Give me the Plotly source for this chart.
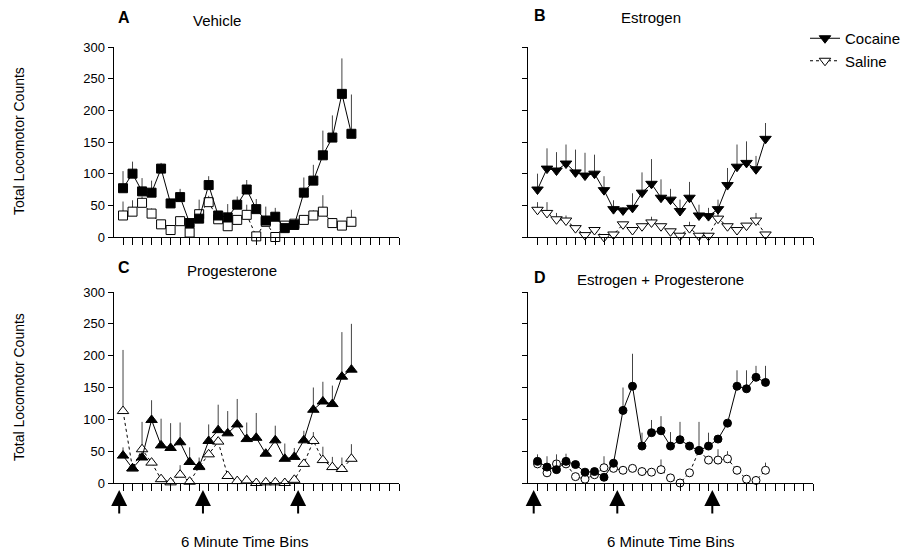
import plotly.graph_objects as go

# ---------------- data ----------------
bins = list(range(1, 26))
x_ticks = list(range(1, 31))
y_ticks = [0, 50, 100, 150, 200, 250, 300]

A_coc = [77, 100, 72, 70, 108, 53, 63, 22, 29, 82, 34, 31, 51, 75, 44, 26, 32, 14, 19, 70, 89, 129, 157, 226, 163]
A_coc_err = [27, 19, 21, 19, 9, 0, 13, 0, 0, 14, 0, 21, 13, 15, 16, 0, 14, 0, 0, 24, 25, 39, 35, 56, 62]
A_sal = [34, 40, 54, 37, 20, 11, 25, 7, 36, 55, 28, 17, 27, 35, 1, 24, 0, 18, 21, 27, 34, 40, 22, 18, 24]
A_sal_err = [22, 18, 10, 8, 5, 5, 5, 5, 23, 10, 5, 5, 5, 16, 5, 24, 5, 5, 5, 5, 8, 26, 8, 5, 19]

B_coc = [75, 108, 105, 116, 102, 97, 100, 74, 44, 42, 46, 70, 84, 62, 59, 41, 62, 34, 33, 44, 82, 111, 117, 107, 155]
B_coc_err = [25, 32, 29, 30, 36, 36, 30, 22, 14, 5, 23, 32, 39, 29, 17, 18, 25, 17, 13, 15, 27, 35, 34, 21, 25]
B_sal = [43, 38, 28, 26, 14, 3, 11, 0, 4, 20, 11, 17, 23, 17, 9, 2, 14, 2, 2, 29, 17, 11, 18, 26, 4]
B_sal_err = [12, 17, 10, 8, 3, 3, 3, 3, 3, 3, 3, 3, 9, 3, 3, 3, 10, 3, 3, 14, 3, 3, 3, 12, 3]

C_coc = [43, 23, 40, 99, 59, 55, 64, 33, 26, 66, 83, 78, 92, 69, 71, 46, 67, 38, 41, 67, 115, 128, 124, 167, 178]
C_coc_err = [13, 0, 0, 31, 42, 39, 31, 23, 14, 26, 40, 35, 40, 26, 39, 0, 23, 24, 14, 15, 35, 31, 29, 70, 72]
C_sal = [113, 23, 53, 32, 6, 1, 13, 2, 25, 45, 65, 11, 3, 4, 0, 1, 1, 0, 5, 30, 66, 36, 25, 22, 38]
C_sal_err = [96, 0, 43, 0, 0, 0, 15, 0, 0, 0, 0, 0, 0, 0, 0, 0, 0, 0, 0, 0, 14, 21, 16, 18, 23]

D_coc = [34, 25, 21, 34, 29, 17, 18, 9, 31, 114, 152, 58, 79, 82, 58, 68, 58, 51, 58, 69, 94, 152, 148, 166, 158]
D_coc_err = [11, 17, 24, 12, 0, 0, 0, 0, 0, 36, 51, 21, 20, 23, 22, 28, 0, 45, 21, 0, 0, 25, 29, 18, 26]
D_sal = [30, 16, 30, 30, 10, 6, 13, 24, 23, 20, 23, 18, 17, 21, 8, 0, 16, 51, 36, 36, 38, 20, 6, 4, 20]
D_sal_err = [0, 0, 0, 0, 0, 0, 0, 18, 0, 0, 0, 0, 0, 16, 0, 0, 0, 0, 0, 17, 12, 0, 0, 0, 12]

injection_bins = [0.6, 9.4, 19.4]

panel_letters = ["A", "B", "C", "D"]
panel_titles = ["Vehicle", "Estrogen", "Progesterone", "Estrogen + Progesterone"]
y_title = "Total Locomotor Counts"
x_title = "6 Minute Time Bins"

# ---------------- layout geometry ----------------
W, H = 902, 552
FONT = "Liberation Sans, Arial, sans-serif"

def px_x(p):
    return p / W

def px_y(p):
    return 1 - p / H

xdom_left = [px_x(113.5), px_x(399)]
xdom_right = [px_x(528), px_x(813)]
ydom_top = [px_y(237), px_y(47)]
ydom_bot = [px_y(483), px_y(292)]

fig = go.Figure()

panels = [
    ("x", "y", A_coc, A_coc_err, A_sal, A_sal_err, "square", False),
    ("x2", "y2", B_coc, B_coc_err, B_sal, B_sal_err, "triangle-down", True),
    ("x3", "y3", C_coc, C_coc_err, C_sal, C_sal_err, "triangle-up", False),
    ("x4", "y4", D_coc, D_coc_err, D_sal, D_sal_err, "circle", False),
]
sizes = {"square": 9, "triangle-down": 10, "triangle-up": 10, "circle": 8}

for xa, ya, coc, coc_e, sal, sal_e, sym, leg in panels:
    sz = sizes[sym]
    fig.add_trace(go.Scatter(
        x=bins, y=sal, xaxis=xa, yaxis=ya, mode="lines+markers",
        name="Saline", showlegend=leg, legendrank=2,
        line=dict(color="black", width=1, dash="dot"),
        marker=dict(symbol=sym, size=sz, color="white",
                    line=dict(color="black", width=1)),
        error_y=dict(type="data", array=sal_e, arrayminus=[0] * len(sal_e),
                     symmetric=False, width=0, thickness=1, color="#444"),
        cliponaxis=False,
    ))
    fig.add_trace(go.Scatter(
        x=bins, y=coc, xaxis=xa, yaxis=ya, mode="lines+markers",
        name="Cocaine", showlegend=leg, legendrank=1,
        line=dict(color="black", width=1),
        marker=dict(symbol=sym, size=sz, color="black",
                    line=dict(color="black", width=1)),
        error_y=dict(type="data", array=coc_e, arrayminus=[0] * len(coc_e),
                     symmetric=False, width=0, thickness=1, color="#444"),
        cliponaxis=False,
    ))

axis_common = dict(showgrid=False, zeroline=False, showline=True,
                   linecolor="black", linewidth=1, ticks="outside",
                   tickcolor="black", tickwidth=1, automargin=False)

layout = dict(
    width=W, height=H, margin=dict(l=0, r=0, t=0, b=0, autoexpand=False),
    paper_bgcolor="white", plot_bgcolor="white",
    font=dict(family=FONT, color="black", size=13),
    legend=dict(x=px_x(805), y=px_y(22), xanchor="left", yanchor="top",
                font=dict(size=15, family=FONT), bgcolor="rgba(0,0,0,0)",
                tracegroupgap=0, itemwidth=30),
)

doms = {
    "": (xdom_left, ydom_top),
    "2": (xdom_right, ydom_top),
    "3": (xdom_left, ydom_bot),
    "4": (xdom_right, ydom_bot),
}
for k, (xd, yd) in doms.items():
    layout["xaxis" + k] = dict(axis_common, domain=xd, range=[0, 30],
                               tickvals=x_ticks, showticklabels=False,
                               ticklen=7, anchor="y" + k)
    layout["yaxis" + k] = dict(axis_common, domain=yd, range=[0, 300],
                               tickvals=y_ticks, ticklen=5,
                               showticklabels=(k in ("", "3")),
                               tickfont=dict(size=13), anchor="x" + k)

fig.update_layout(**layout)

ann = []
letter_pos = [(124, 17), (540, 15), (124, 268), (540, 277)]
title_pos = [(217, 20), (651, 17), (232, 270), (660, 279)]
for i in range(4):
    lx, ly = letter_pos[i]
    ann.append(dict(x=px_x(lx), y=px_y(ly), xref="paper", yref="paper",
                    xanchor="center", yanchor="middle",
                    text="<b>" + panel_letters[i] + "</b>", showarrow=False,
                    font=dict(size=16, family=FONT)))
    tx, ty = title_pos[i]
    ann.append(dict(x=px_x(tx), y=px_y(ty), xref="paper", yref="paper",
                    xanchor="center", yanchor="middle",
                    text=panel_titles[i], showarrow=False,
                    font=dict(size=15, family=FONT)))
for yy in (141, 387):
    ann.append(dict(x=px_x(19), y=px_y(yy), xref="paper", yref="paper",
                    xanchor="center", yanchor="middle",
                    text=y_title, textangle=-90, showarrow=False,
                    font=dict(size=14, family=FONT)))
for xx in (245, 671):
    ann.append(dict(x=px_x(xx), y=px_y(541), xref="paper", yref="paper",
                    xanchor="center", yanchor="middle",
                    text=x_title, showarrow=False,
                    font=dict(size=15, family=FONT)))
# injection arrows (head just below x axis)
for xa in ("x3", "x4"):
    for b in injection_bins:
        ann.append(dict(x=b, y=px_y(490), xref=xa, yref="paper", ax=0, ay=25,
                        text="", showarrow=True,
                        arrowhead=2, arrowsize=1.6, arrowwidth=2,
                        arrowcolor="black"))
fig.update_layout(annotations=ann)

fig.write_html("out.html", config={"displayModeBar": False},
               post_script="document.body.style.margin='0';")
